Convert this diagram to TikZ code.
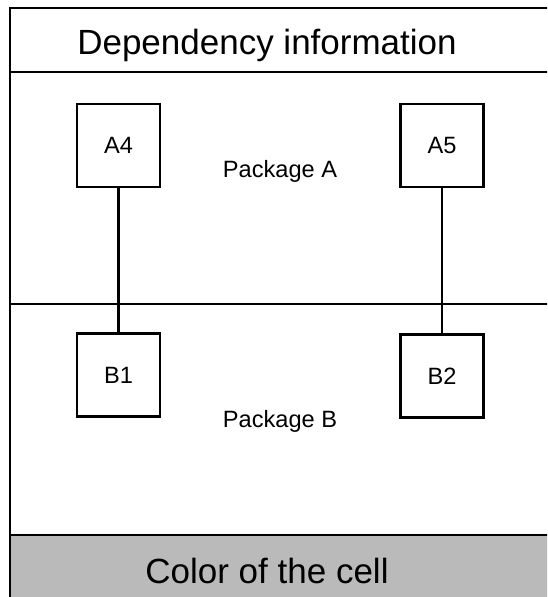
\documentclass[tikz,border=0pt]{standalone}
\usepackage{fontspec}
\setmainfont{Liberation Sans}
\definecolor{cellgray}{RGB}{186,186,186}
\begin{document}
\begin{tikzpicture}[x=1pt,y=-1pt,
  frame/.style={line width=2.8pt,draw=black},
  pkgbox/.style={draw=black,line width=2.8pt,fill=white,minimum width=83pt,minimum height=83pt,inner sep=0pt,font=\fontsize{23.6}{26}\selectfont},
  pkglabel/.style={font=\fontsize{23.6}{26}\selectfont,inner sep=0pt},
  title/.style={font=\fontsize{35}{40}\selectfont,inner sep=0pt},
  link/.style={line width=2.8pt,draw=black}]
\useasboundingbox (0,0) rectangle (547,597);
\clip (0,0) rectangle (547,597);
% gray cell band
\fill[cellgray] (10,535) rectangle (570,610);
% outer frame and separators
\draw[frame] (570,8) -- (10,8) -- (10,610);
\draw[frame] (10,72) -- (570,72);
\draw[frame] (10,304) -- (570,304);
\draw[frame] (10,535) -- (570,535);
% texts
\node[title,anchor=base] (head) at (267,54) {Dependency information};
\node[title,anchor=base] (foot) at (267,583) {Color of the cell};
\node[pkglabel,anchor=base] (pa) at (280,177) {Package A};
\node[pkglabel,anchor=base] (pb) at (280,427) {Package B};
% boxes
\node[pkgbox] (a4) at (118.5,145.5) {A4};
\node[pkgbox] (a5) at (442,145.5) {A5};
\node[pkgbox] (b1) at (118.5,375) {B1};
\node[pkgbox] (b2) at (442,376) {B2};
% connectors
\draw[link] (a4.south) -- (b1.north);
\draw[link] (a5.south) -- (b2.north);
\end{tikzpicture}
\end{document}
